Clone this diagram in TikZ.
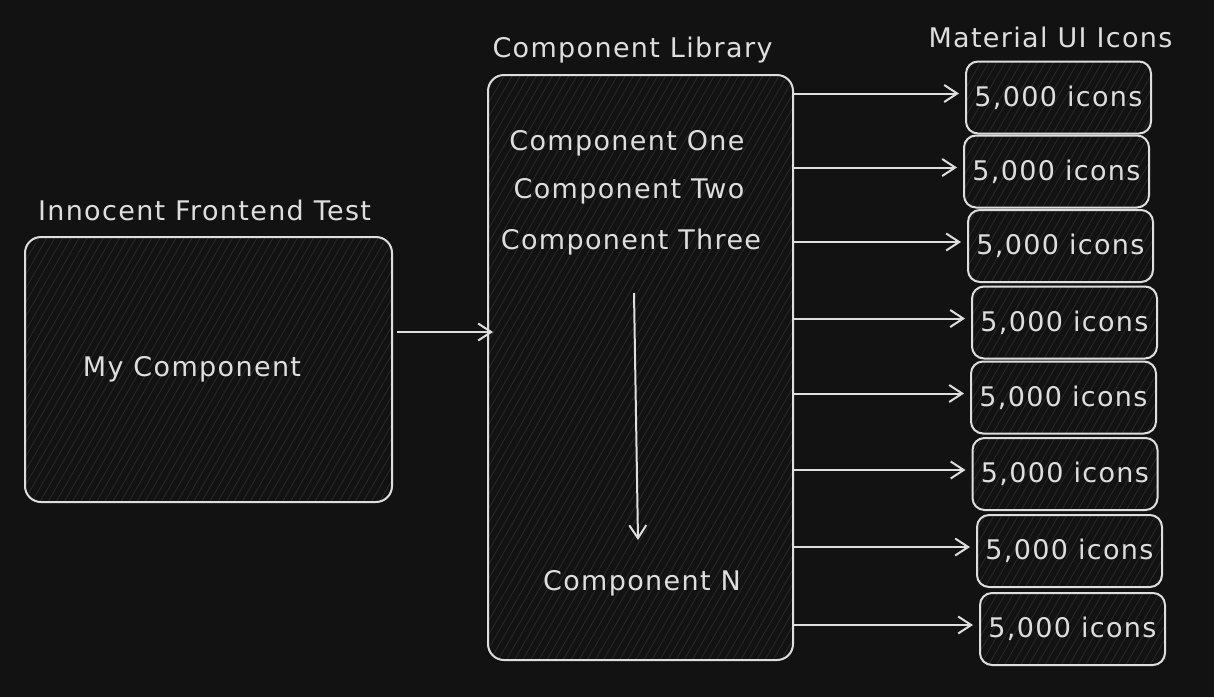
\documentclass[tikz,border=0pt]{standalone}
\usepackage{fontspec}
\setmainfont{DejaVu Sans}[LetterSpace=5]
\usetikzlibrary{positioning}
\usetikzlibrary{calc}
\usetikzlibrary{arrows.meta}
\usetikzlibrary{patterns.meta}
\definecolor{bgdark}{HTML}{121212}
\definecolor{ink}{HTML}{DEDEDE}
\definecolor{hatch}{HTML}{2C2C2C}

\tikzset{
    sketchbox/.style={draw=ink, line width=2pt, rounded corners=16pt,
        pattern={Lines[angle=60,distance=7pt,line width=0.7pt]}, pattern color=hatch,
        text=ink, font=\fontsize{27}{30}\selectfont, inner sep=0pt},
    iconbox/.style={sketchbox, rounded corners=12pt, minimum width=185pt, minimum height=72pt},
    boxtitle/.style={text=ink, font=\fontsize{27}{30}\selectfont, inner sep=0pt},
    arr/.style={draw=ink, line width=2pt, -{Straight Barb[length=13pt,width=17pt,line width=2pt]}}
}

\begin{document}
\begin{tikzpicture}[x=1pt, y=-1pt]
        % background, fixes the page size
        \fill[bgdark] (0,0) rectangle (1214,697);

        % frontend test box
        \node[sketchbox, minimum width=367pt, minimum height=265pt] (mine) at (208.5,369.5) {};
        \node[boxtitle] (mytext) at (192,369) {My Component};
        \node[boxtitle, above=16pt of mine, xshift=-4pt] (minetitle) {Innocent Frontend Test};

        % component library box
        \node[sketchbox, minimum width=305pt, minimum height=585pt] (lib) at (640.5,367.5) {};
        \node[boxtitle, above=11pt of lib, xshift=-8pt] (libtitle) {Component Library};
        \node[boxtitle] (cone) at (627,143) {Component One};
        \node[boxtitle] (ctwo) at (629,191) {Component Two};
        \node[boxtitle] (cthree) at (631,242) {Component Three};
        \node[boxtitle] (cn) at (642,583) {Component N};

        % list goes on down to N
        \coordinate (listtop) at (634,293);
        \coordinate (listend) at (638,540);
        \draw[arr] (listtop) -- (listend);

        % frontend test imports the library
        \coordinate (joinrow) at (0,332);
        \draw[arr, shorten <=5pt, shorten >=-6pt] (mine.east |- joinrow) -- (lib.west |- joinrow);

        % icon boxes, each one pulled in by the library
        \foreach \i/\cx/\cy in {1/1058.5/97.5, 2/1056.5/171.5, 3/1060.5/246, 4/1064.5/322.5,
                                5/1063.5/397.5, 6/1065/474, 7/1069.5/551, 8/1072.5/629} {
            \node[iconbox] (icon\i) at (\cx,\cy) {5,000 icons};
            \draw[arr, shorten >=6pt] ($(icon\i.west -| lib.east)+(0,-4)$) -- ($(icon\i.west)+(0,-4)$);
        }
        \node[boxtitle, above=12pt of icon1, xshift=-8pt] (icontitle) {Material UI Icons};

    \end{tikzpicture}
\end{document}
